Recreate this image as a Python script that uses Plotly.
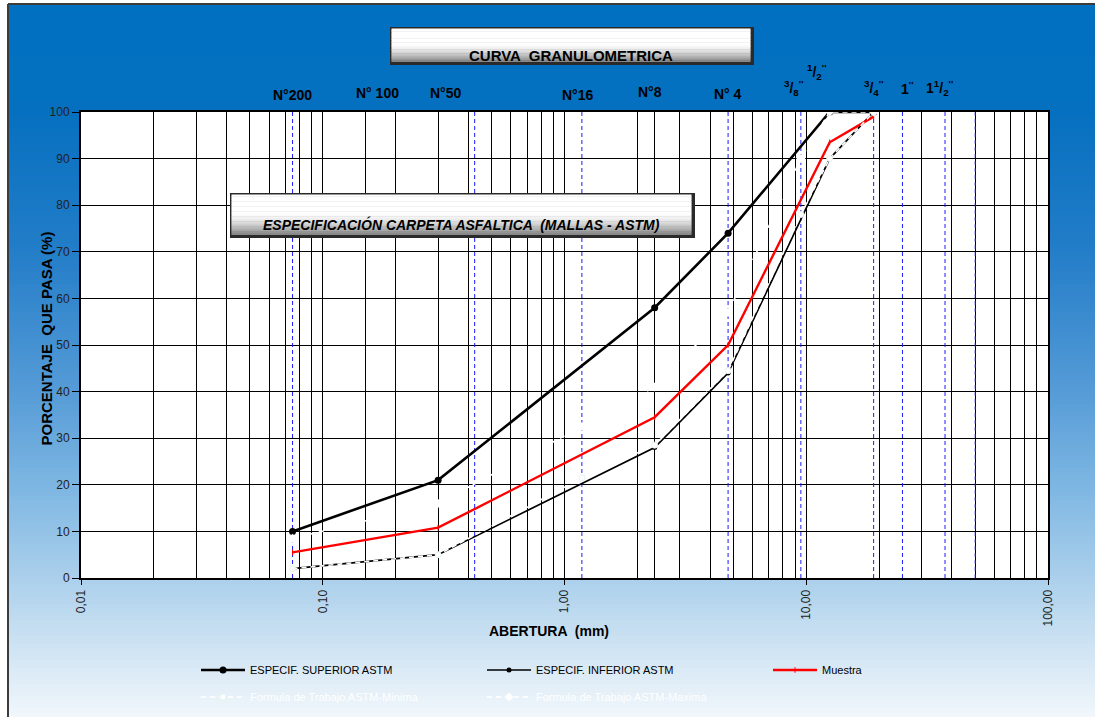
import math
import plotly.graph_objects as go

# ---- data -------------------------------------------------------------
# Sieve openings (mm) of the specification band and of the sample
tamices_mm = [0.075, 0.3, 2.36, 4.75, 12.5, 19.0]
espec_superior = [10, 21, 58, 74, 100, 100]
espec_inferior = [2, 5, 28, 44, 90, 100]
muestra = [5.5, 10.8, 34.5, 50.0, 93.5, 99.0]

# Job-mix formula band
tamices_formula = [0.075, 0.3, 1.18, 2.36, 4.75, 9.5, 12.5, 19.0]
formula_minima = [2, 5, 21.5, 28.5, 44.5, 78, 90, 100]
formula_maxima = [8.5, 16, 32.5, 41, 57, 90, 100, 100]

# Sieve names written above the grid and their openings (mm)
mallas_nombres = ["N°200", "N° 100", "N°50", "N°16", "N°8", "N° 4",
                  "<sup>3</sup>/<sub>8</sub><sup>''</sup>",
                  "<sup>1</sup>/<sub>2</sub><sup>''</sup>",
                  "<sup>3</sup>/<sub>4</sub><sup>''</sup>",
                  "1<sup>''</sup>",
                  "1<sup>1</sup>/<sub>2</sub><sup>''</sup>"]
mallas_mm = [0.075, 0.15, 0.3, 1.18, 2.36, 4.75, 9.5, 12.5, 19.0, 25.0, 37.5]

# Sieve reference lines drawn across the grid
mallas_azules = [0.075, 0.425, 1.18, 4.75, 9.5, 19.0, 25.0, 37.5, 50.0]
mallas_negras = [0.15, 2.36]

x_ticks = [0.01, 0.1, 1, 10, 100]
x_ticktext = ["0,01", "0,10", "1,00", "10,00", "100,00"]

# ---- layout helpers ---------------------------------------------------
W, H = 1095, 717
L, R, T, B = 81, 1048, 112, 578          # plot area in pixels
PW, PH = R - L, B - T


def px(x):
    return (x - L) / PW


def py(y):
    return (B - y) / PH


def lerp(c0, c1, t):
    return tuple(round(a + (b - a) * t) for a, b in zip(c0, c1))


def rgb(c):
    return "rgb(%d,%d,%d)" % c


NARROW = "Liberation Sans Narrow, Arial Narrow, Liberation Sans, Arial, sans-serif"
SANS = "Liberation Sans, Arial, sans-serif"

shapes = []

# background gradient of the chart area
stops = [(0, (0, 112, 192)), (110, (5, 112, 192)), (250, (35, 125, 200)),
         (390, (85, 155, 215)), (485, (125, 182, 226)), (580, (172, 208, 236)),
         (650, (208, 228, 243)), (717, (242, 247, 252))]


def grad(y):
    for (y0, c0), (y1, c1) in zip(stops[:-1], stops[1:]):
        if y0 <= y <= y1:
            return lerp(c0, c1, (y - y0) / (y1 - y0))
    return stops[-1][1]


step = 4
y = 4
while y < H:
    shapes.append(dict(type="rect", xref="paper", yref="paper", layer="below",
                       x0=px(8), x1=px(W + 5), y0=py(y), y1=py(min(y + step + 1, H + 2)),
                       line=dict(width=0), fillcolor=rgb(grad(y + step / 2))))
    y += step

# frame edges
shapes.append(dict(type="line", xref="paper", yref="paper", layer="below",
                   x0=px(8), x1=px(8), y0=py(4), y1=py(H + 2),
                   line=dict(color="#3c3c3c", width=2)))
shapes.append(dict(type="line", xref="paper", yref="paper", layer="below",
                   x0=px(8), x1=px(W + 5), y0=py(4), y1=py(4),
                   line=dict(color="#3c3c3c", width=2)))

# white plotting area
shapes.append(dict(type="rect", xref="paper", yref="paper", layer="below",
                   x0=0, x1=1, y0=0, y1=1, line=dict(width=0), fillcolor="white"))


def caja(x0, y0, x1, y1, layer="above"):
    """Shaded label box: white on top fading to grey at the bottom."""
    out = []
    out.append(dict(type="rect", xref="paper", yref="paper", layer=layer,
                    x0=px(x0), x1=px(x1 + 2), y0=py(y0), y1=py(y1 + 2),
                    line=dict(width=0), fillcolor="#2a2a2a"))
    n = 24
    hh = (y1 - y0)
    for i in range(n):
        t = (i + 0.5) / n
        if t < 0.45:
            c = (255, 255, 255)
        else:
            c = lerp((255, 255, 255), (130, 130, 130), ((t - 0.45) / 0.55) ** 1.6)
        out.append(dict(type="rect", xref="paper", yref="paper", layer=layer,
                        x0=px(x0 + 1.5), x1=px(x1 - 1.5),
                        y0=py(y0 + 1.5 + (hh - 3) * i / n),
                        y1=py(y0 + 1.5 + (hh - 3) * (i + 1) / n + 0.5),
                        line=dict(width=0), fillcolor=rgb(c)))
    return out


shapes += caja(390, 27, 752, 63, layer="below")
shapes += caja(230, 193, 693, 236, layer="above")

# ---- traces -----------------------------------------------------------
fig = go.Figure()

xs, ys = [], []
for v in mallas_azules:
    xs += [v, v, None]
    ys += [0, 100, None]
fig.add_trace(go.Scatter(x=xs, y=ys, mode="lines", showlegend=False, hoverinfo="skip",
                         line=dict(color="#1a1aff", width=1, dash="4px,3px")))

fig.add_trace(go.Scatter(
    x=tamices_mm, y=espec_superior, mode="lines+markers",
    name="ESPECIF. SUPERIOR ASTM",
    line=dict(color="black", width=2.6),
    marker=dict(symbol="circle", size=7, color="black")))

fig.add_trace(go.Scatter(
    x=tamices_mm, y=espec_inferior, mode="lines+markers",
    name="ESPECIF. INFERIOR ASTM",
    line=dict(color="black", width=1.7),
    marker=dict(symbol="circle", size=5, color="black")))

fig.add_trace(go.Scatter(
    x=tamices_mm, y=muestra, mode="lines+markers",
    name="Muestra",
    line=dict(color="#ff0000", width=2.4),
    marker=dict(symbol="line-ns", size=4, color="#ff0000",
                line=dict(color="#ff0000", width=1))))

fig.add_trace(go.Scatter(
    x=tamices_formula, y=formula_minima, mode="lines+markers",
    name="Formula de Trabajo ASTM-Minima", legend="legend2",
    line=dict(color="white", width=1.6, dash="5px,4px"),
    marker=dict(symbol="circle", size=6, color="white",
                line=dict(color="#e8f4ee", width=1))))

fig.add_trace(go.Scatter(
    x=tamices_formula, y=formula_maxima, mode="lines+markers",
    name="Formula de Trabajo ASTM-Maxima", legend="legend2",
    line=dict(color="white", width=1.6, dash="5px,4px"),
    marker=dict(symbol="diamond", size=7, color="white")))

# ---- annotations ------------------------------------------------------
annotations = []

label_style = [(0, 95), (12, 93), (7, 93), (-4, 95), (-5, 92), (0, 94),
               (-7, 88), (-13, 72), (0, 88), (5, 88), (-6, 88)]
for name, mm, (dx, yy) in zip(mallas_nombres, mallas_mm, label_style):
    annotations.append(dict(text="<b>%s</b>" % name, x=math.log10(mm), xref="x",
                            y=py(yy), yref="paper", xshift=dx, showarrow=False,
                            xanchor="center", yanchor="middle",
                            font=dict(family=NARROW, size=14, color="black")))

annotations.append(dict(text="<b>CURVA  GRANULOMETRICA</b>", x=px(571), y=py(45),
                        xref="paper", yref="paper", showarrow=False,
                        font=dict(family=NARROW, size=15, color="black")))
annotations.append(dict(text="<b><i>ESPECIFICACIÓN CARPETA ASFALTICA  (MALLAS - ASTM)</i></b>",
                        x=px(461), y=py(214), xref="paper", yref="paper", showarrow=False,
                        font=dict(family=NARROW, size=14, color="black")))
annotations.append(dict(text="<b>PORCENTAJE  QUE PASA (%)</b>", x=px(35), y=py(339),
                        xref="paper", yref="paper", showarrow=False, textangle=-90,
                        font=dict(family=SANS, size=15, color="black")))
annotations.append(dict(text="<b>ABERTURA  (mm)</b>", x=px(549), y=py(641),
                        xref="paper", yref="paper", showarrow=False,
                        font=dict(family=NARROW, size=14, color="black")))

minor_vals = [m * 10 ** e for e in range(-2, 2) for m in range(2, 10)] + mallas_negras

fig.update_layout(
    width=W, height=H, autosize=False,
    margin=dict(l=L, r=W - R, t=T, b=H - B),
    paper_bgcolor="white", plot_bgcolor="white",
    shapes=shapes, annotations=annotations,
    showlegend=True,
    legend=dict(orientation="h", x=px(196), xref="paper",
                y=1 - 670 / H, yref="container", xanchor="left", yanchor="middle",
                entrywidth=227, entrywidthmode="pixels", bgcolor="rgba(0,0,0,0)",
                font=dict(family=NARROW, size=11, color="black"), itemwidth=44),
    legend2=dict(orientation="h", x=px(196), xref="paper",
                 y=1 - 697 / H, yref="container", xanchor="left", yanchor="middle",
                 entrywidth=227, entrywidthmode="pixels", bgcolor="rgba(0,0,0,0)",
                 font=dict(family=NARROW, size=11, color="white"), itemwidth=44),
    xaxis=dict(type="log", range=[-2, 2], tickmode="array", tickvals=x_ticks,
               ticktext=x_ticktext, tickangle=-90, ticks="outside", ticklen=5,
               tickcolor="black", tickwidth=1,
               showgrid=True, gridcolor="black", gridwidth=1,
               minor=dict(tickmode="array", tickvals=minor_vals, showgrid=True,
                          gridcolor="black", gridwidth=1, ticks=""),
               showline=True, linecolor="black", linewidth=2, mirror=True,
               zeroline=False, tickfont=dict(family=SANS, size=12, color="#222")),
    yaxis=dict(range=[0, 100], tickmode="linear", tick0=0, dtick=10,
               ticks="outside", ticklen=7, tickcolor="black", tickwidth=1,
               showgrid=True, gridcolor="black", gridwidth=1,
               showline=True, linecolor="black", linewidth=2, mirror=True,
               zeroline=False, tickfont=dict(family=SANS, size=12, color="#222")),
)

fig.write_html("out.html")
